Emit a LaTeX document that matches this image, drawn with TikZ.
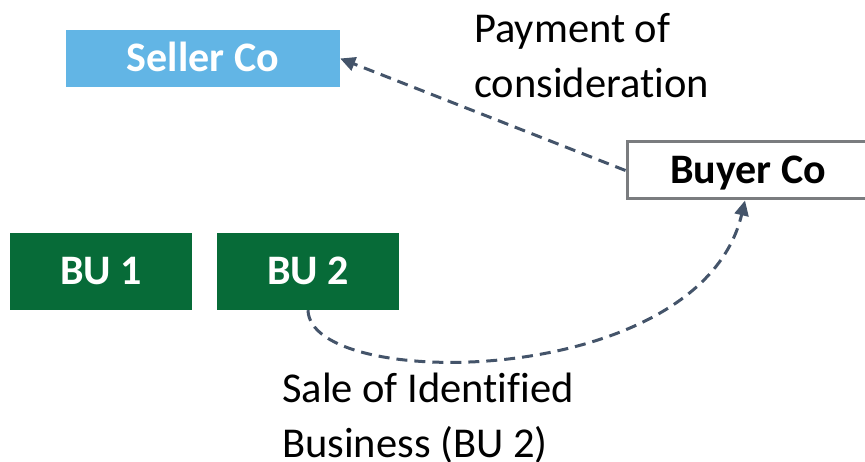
\documentclass[tikz,border=0pt]{standalone}
\usepackage{fontspec}
\setmainfont[Ligatures=NoCommon]{Carlito}
\usetikzlibrary{arrows.meta}
\definecolor{sellerblue}{HTML}{62B5E5}
\definecolor{bugreen}{HTML}{076B38}
\definecolor{buyergray}{HTML}{7A7C7F}
\definecolor{flowslate}{HTML}{44546A}
\tikzset{
  entity/.style={inner sep=0pt, text height=27pt, text depth=0pt,
    font=\fontsize{42}{50}\selectfont\bfseries},
  seller/.style={entity, fill=sellerblue, text=white, minimum width=274pt, minimum height=57pt},
  buyer/.style={entity, draw=buyergray, line width=3pt, fill=white, text=black,
    minimum width=242pt, minimum height=57pt},
  unit/.style={entity, fill=bugreen, text=white, minimum width=182pt, minimum height=77pt},
  note/.style={inner sep=0pt, align=left, anchor=base west,
    font=\fontsize{42.5}{55.5}\selectfont},
  flow/.style={draw=flowslate, line width=3pt, dash pattern=on 11pt off 7pt,
    -{Triangle[length=15pt,width=14pt]}}
}
\begin{document}
\begin{tikzpicture}[x=1pt,y=-1pt]
  \useasboundingbox (0,0) rectangle (865,462);
  % entities
  \node[seller] (sellerco) at (203,58.5) {Seller Co};
  \node[buyer]  (buyerco)  at (748,170.5) {Buyer Co};
  \node[unit]   (bu1)      at (101,271.5) {BU 1};
  \node[unit]   (bu2)      at (308,271.5) {BU 2};
  % flow labels (anchored at the baseline of the last line)
  \node[note] (paylabel)  at (474,98)  {Payment of\\consideration};
  \node[note] (salelabel) at (282,457.5) {Sale of Identified\\Business (BU 2)};
  % flows
  \coordinate (buyin) at ([xshift=-3pt]buyerco.south);
  \draw[flow] (buyerco.west) -- (sellerco.east);
  \draw[flow] (bu2.south) .. controls (310,392) and (700,390) .. (buyin);
\end{tikzpicture}
\end{document}
